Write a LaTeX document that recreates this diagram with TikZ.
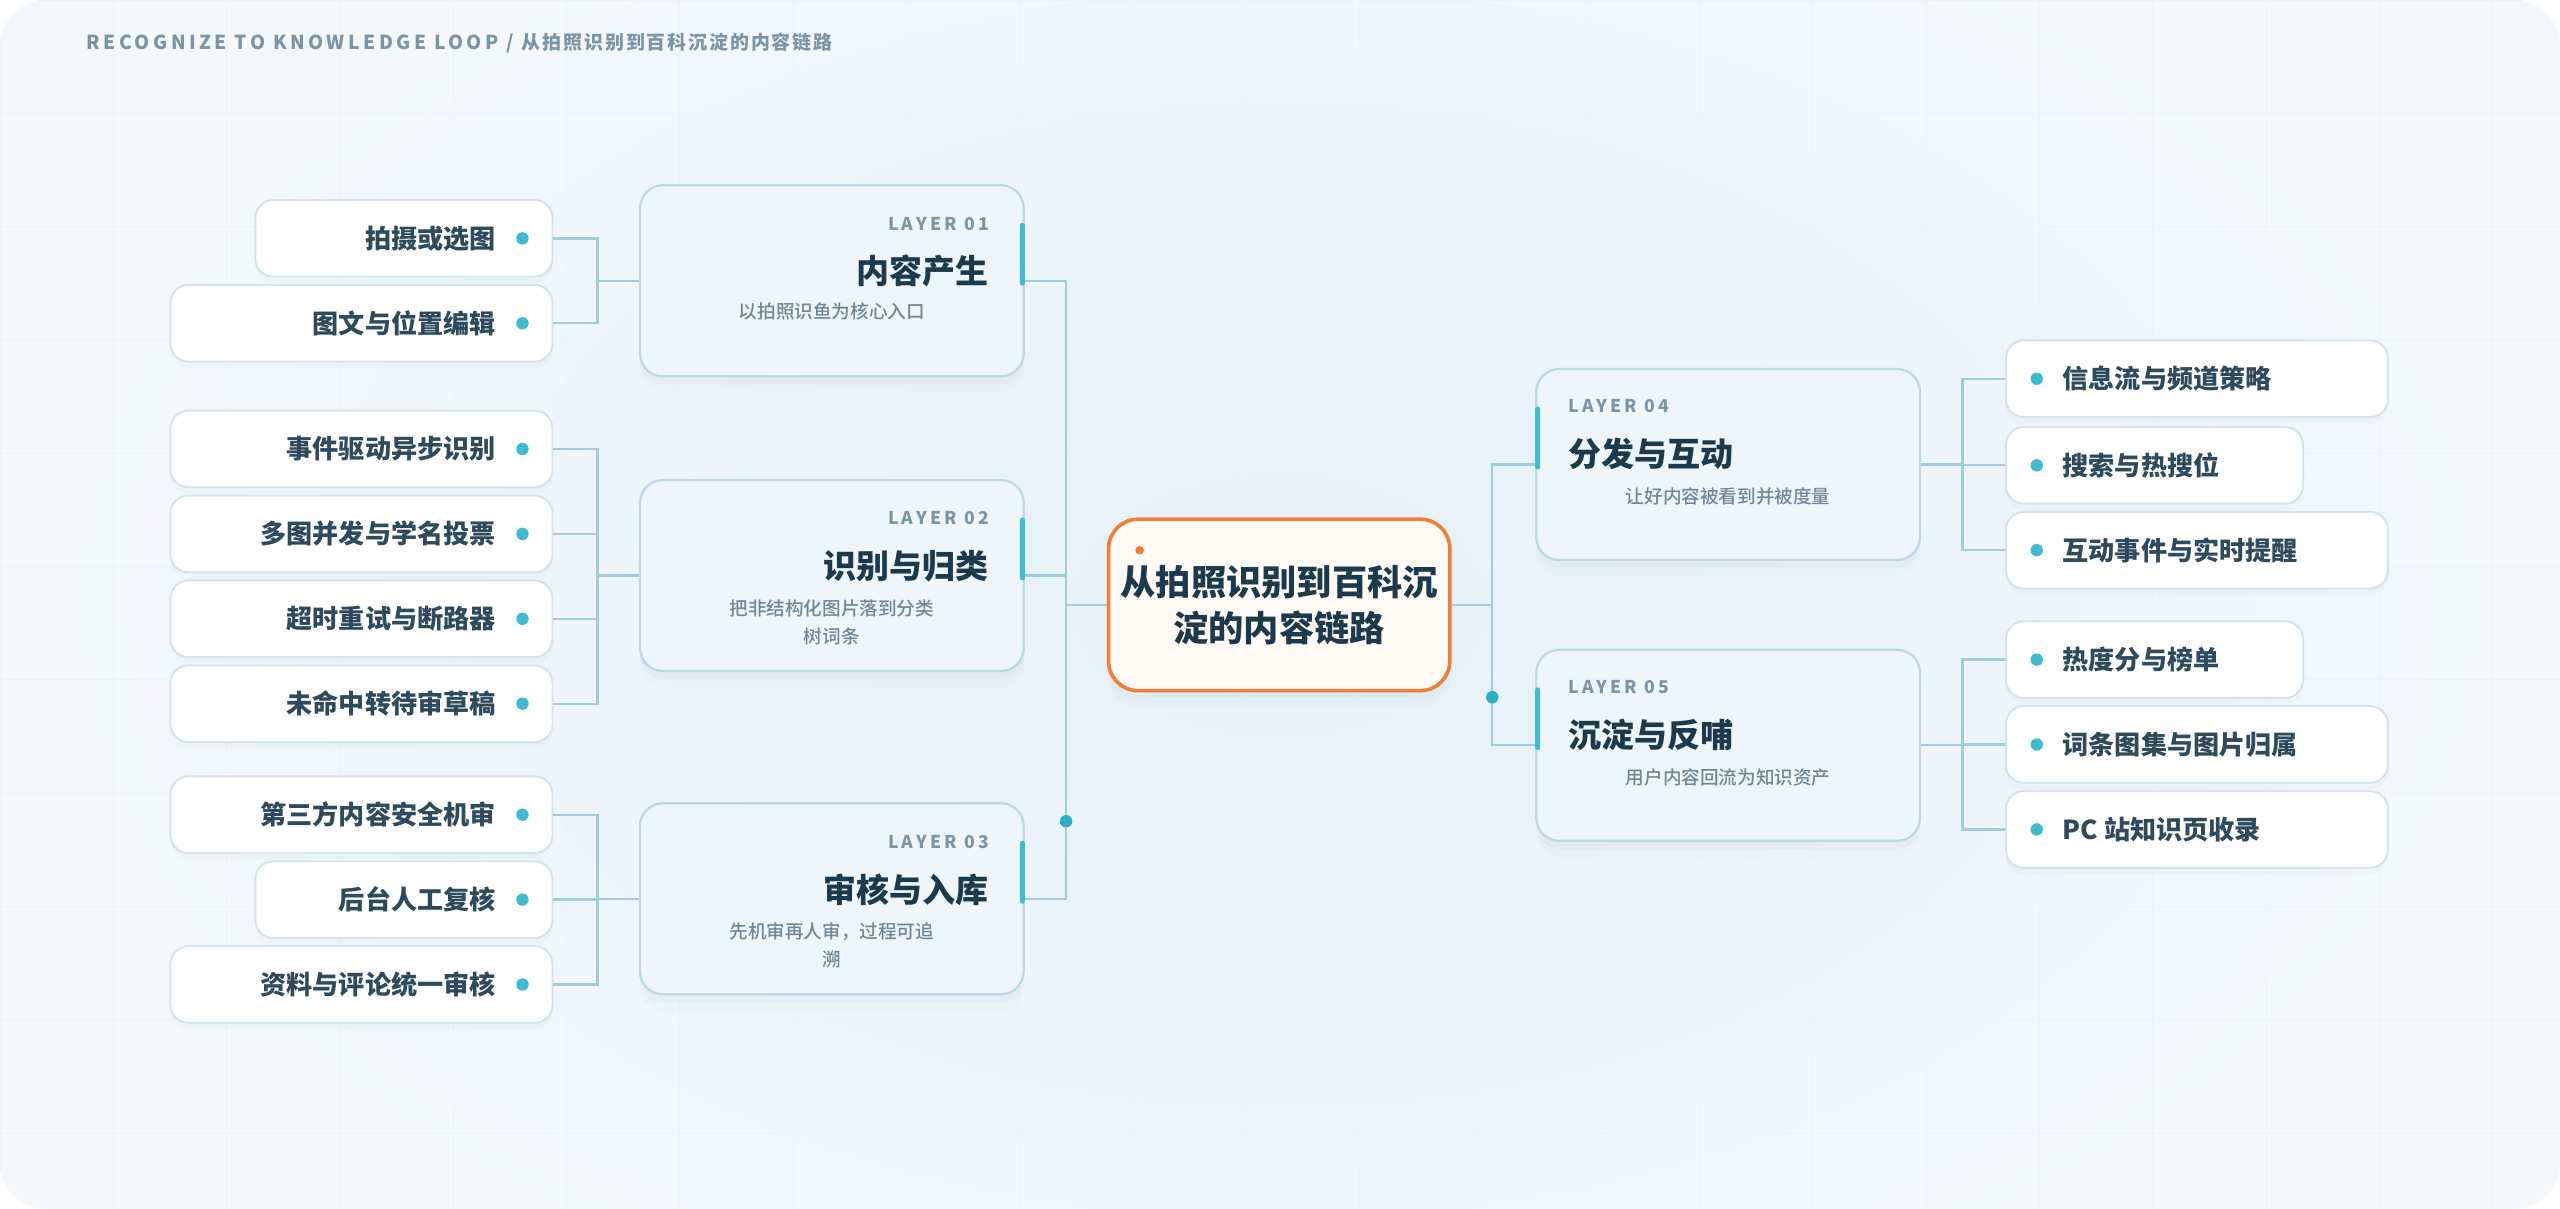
\documentclass[tikz,border=0pt]{standalone}
\usepackage{fontspec}
\setmainfont{Noto Sans CJK SC}
\newfontfamily\tagfont{Noto Sans CJK SC}[LetterSpace=18]
\newfontfamily\headfont{Noto Sans CJK SC}[LetterSpace=18]
\newfontfamily\headcjkfont{Noto Sans CJK SC}[LetterSpace=10]
\IfFontExistsTF{Noto Sans CJK SC Medium}
  {\newfontfamily\medfont{Noto Sans CJK SC Medium}}
  {\newcommand\medfont{\bfseries}}
\usetikzlibrary{positioning,calc}
\definecolor{bgc}{HTML}{F4F8FB}
\definecolor{gridc}{HTML}{ECF2F6}
\definecolor{glowc}{HTML}{E4F1F8}
\definecolor{shadowc}{HTML}{5A7F95}
\definecolor{layerfill}{HTML}{EFF6FA}
\definecolor{layerdraw}{HTML}{BCD9E5}
\definecolor{leafdraw}{HTML}{D3E4EC}
\definecolor{linkc}{HTML}{A2CCDA}
\definecolor{accentc}{HTML}{3EBBD1}
\definecolor{busdotc}{HTML}{2AAFC8}
\definecolor{hubdraw}{HTML}{F07F35}
\definecolor{hubfill}{HTML}{FFFAF5}
\definecolor{inkc}{HTML}{1C3A4E}
\definecolor{leafink}{HTML}{2E4A5D}
\definecolor{mutedc}{HTML}{6E8797}
\definecolor{tagc}{HTML}{7B95A4}
\tikzset{
  softshadow/.style={
    preaction={draw=none, fill=shadowc, opacity=0.025, transform canvas={yshift=-5pt}},
    preaction={draw=none, fill=shadowc, opacity=0.035, transform canvas={yshift=-2.5pt}}},
  layerbox/.style={draw=layerdraw, fill=layerfill, line width=0.7pt, rounded corners=7pt,
    minimum width=117.5pt, minimum height=58.5pt, inner sep=0pt, softshadow},
  leafbox/.style={draw=leafdraw, fill=white, line width=0.6pt, rounded corners=5.5pt,
    minimum height=23.5pt, inner sep=0pt,
    preaction={draw=none, fill=shadowc, opacity=0.03, transform canvas={yshift=-2pt}}},
  hub/.style={draw=hubdraw, fill=hubfill, line width=1.1pt, rounded corners=9pt,
    minimum width=104.5pt, minimum height=52.5pt, align=center, inner sep=0pt, text=inkc,
    font=\bfseries\fontsize{10.8}{14}\selectfont, softshadow},
  tagtext/.style={font=\tagfont\bfseries\fontsize{5.4}{6}\selectfont, text=tagc, inner sep=0pt},
  headtext/.style={font=\bfseries\fontsize{10.1}{12}\selectfont, text=inkc, inner sep=0pt},
  subtext/.style={font=\medfont\fontsize{5.7}{8.5}\selectfont, text=mutedc, inner sep=0pt, align=center},
  leaftext/.style={font=\bfseries\fontsize{8}{10}\selectfont, text=leafink, inner sep=0pt},
  link/.style={draw=linkc, line width=0.7pt},
  accent/.style={fill=accentc, rounded corners=0.7pt},
  leafdot/.style={fill=accentc},
  busdot/.style={fill=busdotc}
}
\begin{document}
\begin{tikzpicture}[x=0.5pt,y=-0.5pt]
\useasboundingbox (0,0) rectangle (1568,740.5);
% canvas
\fill[white] (0,0) rectangle (1568,740.5);
\begin{scope}
  \clip[rounded corners=14pt] (0,0) rectangle (1568,740.5);
  \fill[bgc] (0,0) rectangle (1568,740.5);
  \shade[inner color=glowc, outer color=bgc] (783.5,370) ellipse (760 and 480);
  \draw[gridc, line width=0.3pt, step=34.7pt] (0,0) grid (1568,740.5);
\end{scope}
\node[anchor=west, inner sep=0pt, text=tagc] (heading) at (52.7,26.5)
  {{\headfont\bfseries\fontsize{5.9}{7}\selectfont RECOGNIZE TO KNOWLEDGE LOOP / }{\headcjkfont\bfseries\fontsize{5.8}{7}\selectfont 从拍照识别到百科沉淀的内容链路}};

% layer boxes
\node[layerbox] (L1) at (509.5,172) {};
\node[layerbox] (L2) at (509.5,352.5) {};
\node[layerbox] (L3) at (509.5,550.5) {};
\node[layerbox] (L4) at (1058.5,284.5) {};
\node[layerbox] (L5) at (1058.5,456.5) {};

% hub
\node[hub] (C) at (783.5,370.5) {从拍照识别到百科沉\\淀的内容链路};
\fill[hubdraw] (698,337) circle (1.3pt);

% leaves, left
\node[leafbox, minimum width=91pt, anchor=east] (a1) at (339,146) {};
\node[leafbox, minimum width=117pt, anchor=east] (a2) at (339,198) {};
\node[leafbox, minimum width=117pt, anchor=east] (b1) at (339,275) {};
\node[leafbox, minimum width=117pt, anchor=east] (b2) at (339,327) {};
\node[leafbox, minimum width=117pt, anchor=east] (b3) at (339,379) {};
\node[leafbox, minimum width=117pt, anchor=east] (b4) at (339,431) {};
\node[leafbox, minimum width=117pt, anchor=east] (c1) at (339,499) {};
\node[leafbox, minimum width=91pt, anchor=east] (c2) at (339,551) {};
\node[leafbox, minimum width=117pt, anchor=east] (c3) at (339,603) {};
% leaves, right
\node[leafbox, minimum width=117pt, anchor=west] (d1) at (1228,232) {};
\node[leafbox, minimum width=91pt, anchor=west] (d2) at (1228,285) {};
\node[leafbox, minimum width=117pt, anchor=west] (d3) at (1228,337) {};
\node[leafbox, minimum width=91pt, anchor=west] (e1) at (1228,404) {};
\node[leafbox, minimum width=117pt, anchor=west] (e2) at (1228,456) {};
\node[leafbox, minimum width=117pt, anchor=west] (e3) at (1228,508) {};

% connectors
\coordinate (busL) at (653,370.5);
\coordinate (busR) at (914,370.5);
\draw[link] (L1.east) -| (busL);
\draw[link] (L3.east) -| (busL);
\draw[link] (L2.east) -- (L2.east -| busL);
\draw[link] (busL) -- (C.west);
\draw[link] (C.east) -- (busR);
\draw[link] (L4.west) -| (busR);
\draw[link] (L5.west) -| (busR);
\coordinate (dotL) at (653,503);
\coordinate (dotR) at (914,427);
\fill[busdot] (dotL) circle (1.9pt);
\fill[busdot] (dotR) circle (1.9pt);

\draw[link] (a1.east) -- ++(27,0) |- (L1.west);
\draw[link] (a2.east) -- ++(27,0) |- (L1.west);
\draw[link] (b1.east) -- ++(27,0) |- (L2.west);
\draw[link] (b2.east) -- ++(27,0) |- (L2.west);
\draw[link] (b3.east) -- ++(27,0) |- (L2.west);
\draw[link] (b4.east) -- ++(27,0) |- (L2.west);
\draw[link] (c1.east) -- ++(27,0) |- (L3.west);
\draw[link] (c2.east) -- ++(27,0) |- (L3.west);
\draw[link] (c3.east) -- ++(27,0) |- (L3.west);
\draw[link] (d1.west) -- ++(-26,0) |- (L4.east);
\draw[link] (d2.west) -- ++(-26,0) |- (L4.east);
\draw[link] (d3.west) -- ++(-26,0) |- (L4.east);
\draw[link] (e1.west) -- ++(-26,0) |- (L5.east);
\draw[link] (e2.west) -- ++(-26,0) |- (L5.east);
\draw[link] (e3.west) -- ++(-26,0) |- (L5.east);

% accent bars
\fill[accent] ($(L1.east)+(-3,-35.5)$) rectangle ($(L1.east)+(0,3)$);
\fill[accent] ($(L2.east)+(-3,-35.5)$) rectangle ($(L2.east)+(0,3)$);
\fill[accent] ($(L3.east)+(-3,-35.5)$) rectangle ($(L3.east)+(0,3)$);
\fill[accent] ($(L4.west)+(0,-35.5)$) rectangle ($(L4.west)+(3,3)$);
\fill[accent] ($(L5.west)+(0,-35.5)$) rectangle ($(L5.west)+(3,3)$);

% layer texts
\node[tagtext, anchor=east] (L1tag) at (606,137) {LAYER 01};
\node[headtext, anchor=east] (L1head) at (606,166) {内容产生};
\node[subtext] (L1sub) at (509.5,191) {以拍照识鱼为核心入口};
\node[tagtext, anchor=east] (L2tag) at (606,317.5) {LAYER 02};
\node[headtext, anchor=east] (L2head) at (606,346.5) {识别与归类};
\node[subtext] (L2sub) at (509.5,381) {把非结构化图片落到分类\\树词条};
\node[tagtext, anchor=east] (L3tag) at (606,516) {LAYER 03};
\node[headtext, anchor=east] (L3head) at (606,545) {审核与入库};
\node[subtext] (L3sub) at (509.5,579) {先机审再人审，过程可追\\溯};
\node[tagtext, anchor=west] (L4tag) at (960.5,249) {LAYER 04};
\node[headtext, anchor=west] (L4head) at (960.5,278) {分发与互动};
\node[subtext] (L4sub) at (1058.5,304) {让好内容被看到并被度量};
\node[tagtext, anchor=west] (L5tag) at (960.5,421) {LAYER 05};
\node[headtext, anchor=west] (L5head) at (960.5,450) {沉淀与反哺};
\node[subtext] (L5sub) at (1058.5,476) {用户内容回流为知识资产};

% leaf texts and dots
\node[leaftext, anchor=east] (a1t) at (304,146) {拍摄或选图};
\node[leaftext, anchor=east] (a2t) at (304,198) {图文与位置编辑};
\node[leaftext, anchor=east] (b1t) at (304,275) {事件驱动异步识别};
\node[leaftext, anchor=east] (b2t) at (304,327) {多图并发与学名投票};
\node[leaftext, anchor=east] (b3t) at (304,379) {超时重试与断路器};
\node[leaftext, anchor=east] (b4t) at (304,431) {未命中转待审草稿};
\node[leaftext, anchor=east] (c1t) at (304,499) {第三方内容安全机审};
\node[leaftext, anchor=east] (c2t) at (304,551) {后台人工复核};
\node[leaftext, anchor=east] (c3t) at (304,603) {资料与评论统一审核};
\fill[leafdot] (320,146) circle (1.9pt);
\fill[leafdot] (320,198) circle (1.9pt);
\fill[leafdot] (320,275) circle (1.9pt);
\fill[leafdot] (320,327) circle (1.9pt);
\fill[leafdot] (320,379) circle (1.9pt);
\fill[leafdot] (320,431) circle (1.9pt);
\fill[leafdot] (320,499) circle (1.9pt);
\fill[leafdot] (320,551) circle (1.9pt);
\fill[leafdot] (320,603) circle (1.9pt);
\node[leaftext, anchor=west] (d1t) at (1263,232) {信息流与频道策略};
\node[leaftext, anchor=west] (d2t) at (1263,285) {搜索与热搜位};
\node[leaftext, anchor=west] (d3t) at (1263,337) {互动事件与实时提醒};
\node[leaftext, anchor=west] (e1t) at (1263,404) {热度分与榜单};
\node[leaftext, anchor=west] (e2t) at (1263,456) {词条图集与图片归属};
\node[leaftext, anchor=west] (e3t) at (1263,508) {PC 站知识页收录};
\fill[leafdot] (1247.5,232) circle (1.9pt);
\fill[leafdot] (1247.5,285) circle (1.9pt);
\fill[leafdot] (1247.5,337) circle (1.9pt);
\fill[leafdot] (1247.5,404) circle (1.9pt);
\fill[leafdot] (1247.5,456) circle (1.9pt);
\fill[leafdot] (1247.5,508) circle (1.9pt);
\end{tikzpicture}
\end{document}
